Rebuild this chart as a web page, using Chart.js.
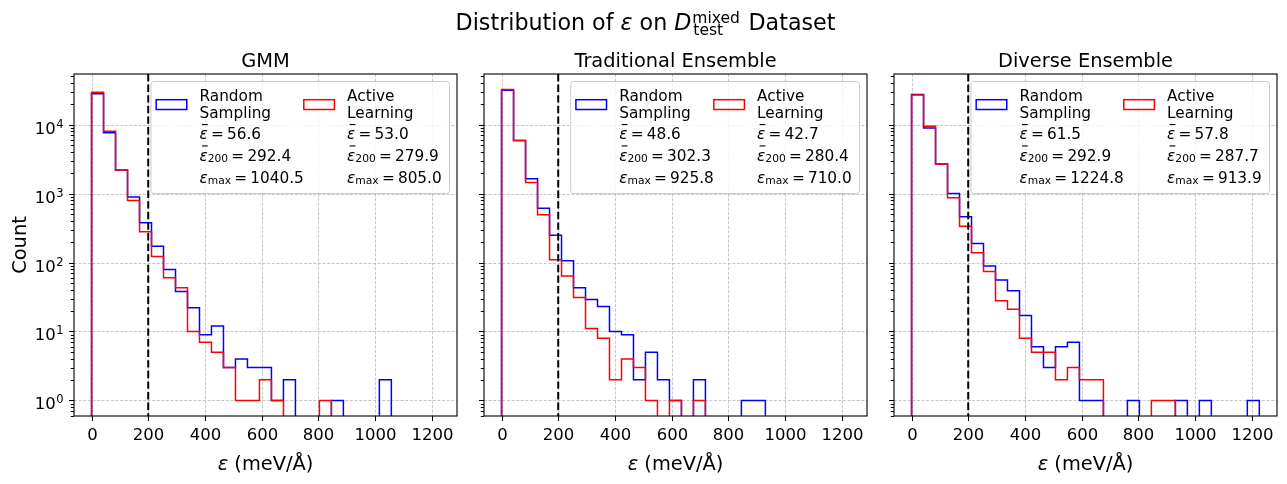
<!DOCTYPE html>
<html>
<head>
<meta charset="utf-8">
<title>Distribution of ε on D_test^mixed</title>
<script src="https://cdn.jsdelivr.net/npm/chart.js@4.4.1/dist/chart.umd.min.js"></script>
<style>
  html, body { margin: 0; padding: 0; background: #fff; }
  #fig { position: relative; width: 1287px; height: 484px; overflow: hidden; }
  #fig canvas { position: absolute; left: 0; top: 0; }
</style>
</head>
<body>
<div id="fig">
  <canvas id="panel0" width="1287" height="484"></canvas>
  <canvas id="panel1" width="1287" height="484"></canvas>
  <canvas id="panel2" width="1287" height="484"></canvas>
</div>
<script>
(function () {
  'use strict';

  // ---- data: counts per bin (bin width in meV/Å) ----
  const binWidth = 42.33;
  const gmmRandom  = [28000, 7600, 2200, 890, 378, 172, 79, 38, 22, 9, 12, 3, 4, 3, 3, 1, 2, 0, 0, 0, 1, 0, 0, 0, 2];
  const gmmActive  = [29500, 8000, 2200, 790, 280, 122, 60, 43, 10, 7, 5, 3, 1, 1, 2, 1, 0, 0, 0, 1];
  const tradRandom = [31500, 5860, 1645, 611, 248, 106, 43, 29, 23, 10, 9, 2, 5, 2, 1, 0, 2, 0, 0, 0, 1, 1];
  const tradActive = [32200, 5860, 1440, 494, 110, 64, 31, 11, 8, 2, 4, 3, 1, 0, 1, 0, 1];
  const divRandom  = [27200, 8950, 2690, 1000, 462, 188, 89, 56, 39, 17, 6, 3, 6, 7, 1, 1, 0, 0, 1, 0, 0, 0, 1, 0, 1, 0, 0, 0, 1];
  const divActive  = [26800, 9460, 2690, 870, 335, 139, 74, 28, 21, 8, 5, 5, 2, 3, 2, 2, 0, 0, 0, 0, 1, 1];

  const panelTitles = ['GMM', 'Traditional Ensemble', 'Diverse Ensemble'];
  const randomCounts = [gmmRandom, tradRandom, divRandom];
  const activeCounts = [gmmActive, tradActive, divActive];

  // legend statistics
  const randomMean    = [56.6, 48.6, 61.5];
  const activeMean    = [53.0, 42.7, 57.8];
  const randomMean200 = [292.4, 302.3, 292.9];
  const activeMean200 = [279.9, 280.4, 287.7];
  const randomMax     = [1040.5, 925.8, 1224.8];
  const activeMax     = [805.0, 710.0, 913.9];

  const threshold = 200;
  const xTicks = [0, 200, 400, 600, 800, 1000, 1200];
  const yMajor = [1, 10, 100, 1000, 10000];
  const yExp = ['0', '1', '2', '3', '4'];
  const yMinor = [0.6, 0.7, 0.8, 0.9];
  [1, 10, 100, 1000, 10000].forEach(d => [2, 3, 4, 5, 6, 7, 8, 9].forEach(m => { if (m * d < 54000) yMinor.push(m * d); }));

  // ---- layout ----
  const W = 1287, H = 484;
  const plotTop = 74, plotBottom = 416;
  const plotLeft = [74, 484, 894];
  const plotRight = [457, 867, 1277];
  const BLUE = '#0000ff', RED = '#ff0000';
  const FLOOR = 0.1; // empty bins sit below the visible log range

  const fnt = (size, italic) => (italic ? 'italic ' : '') + size + 'px "DejaVu Sans", sans-serif';

  // simple text runs (italic, sub/superscript pieces)
  function measureRuns(ctx, parts, size) {
    let cx = 0;
    const items = [];
    parts.forEach(p => {
      const s = p.small ? size * 0.7 : size;
      ctx.font = fnt(s, p.it);
      cx += p.pre || 0;
      const w = ctx.measureText(p.t).width;
      items.push({ p, s, dx: cx, w });
      cx += w + (p.post || 0);
    });
    return { items, width: cx };
  }
  function drawRuns(ctx, x, y, parts, size) {
    const m = measureRuns(ctx, parts, size);
    m.items.forEach(it => {
      ctx.font = fnt(it.s, it.p.it);
      ctx.fillText(it.p.t, x + it.dx, y + (it.p.dy || 0));
      if (it.p.bar) ctx.fillRect(x + it.dx + it.w * 0.3, y - size * 1.0, it.w * 0.7, 1.1);
    });
    return m.width;
  }

  function statLines(name, mean, m200, max) {
    const eq = { t: '=', pre: 3.2, post: 3.2 };
    return [
      [{ t: name[0] }],
      [{ t: name[1] }],
      [{ t: 'ε', it: true, bar: true }, eq, { t: mean.toFixed(1) }],
      [{ t: 'ε', it: true, bar: true }, { t: '200', small: true, dy: 1.6 }, eq, { t: m200.toFixed(1) }],
      [{ t: 'ε', it: true }, { t: 'max', small: true, dy: 1.4 }, eq, { t: max.toFixed(1) }]
    ];
  }

  function stepPoints(counts) {
    const pts = [{ x: 0, y: FLOOR }];
    counts.forEach((c, k) => pts.push({ x: k * binWidth, y: c > 0 ? c : FLOOR }));
    pts.push({ x: counts.length * binWidth, y: FLOOR });
    return pts;
  }

  function seg(ctx, x1, y1, x2, y2) {
    ctx.beginPath(); ctx.moveTo(x1, y1); ctx.lineTo(x2, y2); ctx.stroke();
  }

  const deco = {
    id: 'deco',
    beforeDatasetsDraw(chart) {
      const { ctx, chartArea: a, scales: { x, y } } = chart;
      ctx.save();
      ctx.strokeStyle = '#b8b8b8';
      ctx.lineWidth = 0.8;
      ctx.setLineDash([3, 1.6]);
      x.ticks.forEach(t => { const px = Math.round(x.getPixelForValue(t.value)) + 0.5; seg(ctx, px, a.top, px, a.bottom); });
      y.ticks.filter(t => yMajor.includes(t.value)).forEach(t => {
        const py = Math.round(y.getPixelForValue(t.value)) + 0.5; seg(ctx, a.left, py, a.right, py);
      });
      ctx.restore();
    },
    afterDatasetsDraw(chart, args, opts) {
      const i = opts.panel;
      const { ctx, chartArea: a, scales: { x, y } } = chart;
      ctx.save();
      ctx.fillStyle = '#000';
      ctx.strokeStyle = '#000';

      // threshold line
      ctx.lineWidth = 2;
      ctx.setLineDash([7.4, 3.2]);
      const tx = x.getPixelForValue(threshold);
      seg(ctx, tx, a.top, tx, a.bottom);
      ctx.setLineDash([]);

      // frame
      ctx.lineWidth = 1.1;
      ctx.strokeRect(a.left, a.top, a.right - a.left, a.bottom - a.top);

      // tick marks and labels
      ctx.lineWidth = 1;
      ctx.font = fnt(16.5);
      ctx.textAlign = 'center';
      ctx.textBaseline = 'alphabetic';
      x.ticks.forEach(t => {
        const px = Math.round(x.getPixelForValue(t.value)) + 0.5;
        seg(ctx, px, a.bottom, px, a.bottom + 5);
        ctx.fillText(String(t.value), px, a.bottom + 24);
      });
      y.ticks.forEach(t => {
        const py = Math.round(y.getPixelForValue(t.value)) + 0.5;
        const major = yMajor.includes(t.value);
        seg(ctx, a.left - (major ? 5 : 3.2), py, a.left, py);
        if (major && i === 0) {
          const e = yExp[yMajor.indexOf(t.value)];
          ctx.font = fnt(11.5);
          const we = ctx.measureText(e).width;
          ctx.textAlign = 'left';
          ctx.fillText(e, a.left - 10.5 - we, py + 2.4);
          ctx.font = fnt(16.5);
          ctx.textAlign = 'right';
          ctx.fillText('10', a.left - 10.5 - we - 0.5, py + 8);
          ctx.textAlign = 'center';
        }
      });

      // subplot title
      ctx.font = fnt(19.4);
      ctx.fillText(panelTitles[i], (a.left + a.right) / 2, a.top - 7.3);

      // x axis label
      ctx.textAlign = 'left';
      const xl = [{ t: 'ε', it: true }, { t: ' (meV/Å)' }];
      const xlw = measureRuns(ctx, xl, 19.4).width;
      drawRuns(ctx, (a.left + a.right) / 2 - xlw / 2, 469.5, xl, 19.4);

      if (i === 0) {
        // y axis label
        ctx.save();
        ctx.translate(26, (a.top + a.bottom) / 2);
        ctx.rotate(-Math.PI / 2);
        ctx.textAlign = 'center';
        ctx.font = fnt(19.4);
        ctx.fillText('Count', 0, 0);
        ctx.restore();

        // figure title
        const size = 22.2;
        const head = [{ t: 'Distribution of ' }, { t: 'ε', it: true }, { t: ' on ' }, { t: 'D', it: true }];
        const tail = [{ t: ' Dataset' }];
        ctx.font = fnt(size * 0.7);
        const wSup = ctx.measureText('mixed').width;
        const wSub = ctx.measureText('test').width;
        const wStack = Math.max(wSup, wSub) + 1.5;
        const wHead = measureRuns(ctx, head, size).width;
        const wTail = measureRuns(ctx, tail, size).width;
        let sx = 645 - (wHead + wStack + wTail) / 2;
        const base = 30;
        drawRuns(ctx, sx, base, head, size);
        sx += wHead + 1;
        ctx.font = fnt(size * 0.7);
        ctx.fillText('mixed', sx, base - 7);
        ctx.fillText('test', sx + 1, base + 5);
        drawRuns(ctx, sx + wStack, base, tail, size);
      }

      // legend
      const LS = 15.3;
      const blueLines = statLines(['Random', 'Sampling'], randomMean[i], randomMean200[i], randomMax[i]);
      const redLines = statLines(['Active', 'Learning'], activeMean[i], activeMean200[i], activeMax[i]);
      const w1 = Math.max(...blueLines.map(l => measureRuns(ctx, l, LS).width));
      const w2 = Math.max(...redLines.map(l => measureRuns(ctx, l, LS).width));
      const patchW = 30.6, patchH = 9.8, patchGap = 12.7;
      const boxRight = a.right - 8, boxTop = a.top + 7, boxH = 112;
      const t2x = boxRight - 7.3 - w2;
      const p2x = t2x - patchGap - patchW;
      const t1x = p2x - w1;
      const p1x = t1x - patchGap - patchW;
      const boxLeft = p1x - 5.7;
      ctx.beginPath();
      ctx.roundRect(boxLeft + 0.5, boxTop + 0.5, boxRight - boxLeft, boxH, 3);
      ctx.fillStyle = 'rgba(255,255,255,0.8)';
      ctx.fill();
      ctx.strokeStyle = '#cccccc';
      ctx.lineWidth = 1;
      ctx.stroke();

      ctx.lineWidth = 1.5;
      ctx.strokeStyle = BLUE;
      ctx.strokeRect(p1x, boxTop + 18.7, patchW, patchH);
      ctx.strokeStyle = RED;
      ctx.strokeRect(p2x, boxTop + 18.7, patchW, patchH);

      ctx.fillStyle = '#000';
      ctx.textAlign = 'left';
      const baselines = [20, 37.3, 58.3, 79.7, 101.5];
      baselines.forEach((b, k) => {
        drawRuns(ctx, t1x, boxTop + b, blueLines[k], LS);
        drawRuns(ctx, t2x, boxTop + b, redLines[k], LS);
      });
      ctx.restore();
    }
  };

  const hiddenAxis = {
    grid: { display: false, drawTicks: false }, border: { display: false }, ticks: { display: false }
  };

  function makeChart(i) {
    return new Chart(document.getElementById('panel' + i), {
      type: 'line',
      data: {
        datasets: [
          { label: 'Active Learning', data: stepPoints(activeCounts[i]), borderColor: RED, order: 0 },
          { label: 'Random Sampling', data: stepPoints(randomCounts[i]), borderColor: BLUE, order: 1 }
        ]
      },
      options: {
        responsive: false,
        animation: false,
        events: [],
        layout: { padding: { left: plotLeft[i], right: W - plotRight[i], top: plotTop, bottom: H - plotBottom } },
        datasets: { line: { stepped: 'before', borderWidth: 1.5, pointRadius: 0, fill: false, tension: 0 } },
        plugins: { legend: { display: false }, tooltip: { enabled: false }, deco: { panel: i } },
        scales: {
          x: Object.assign({
            type: 'linear', min: -62, max: 1290,
            afterBuildTicks: s => { s.ticks = xTicks.map(v => ({ value: v })); },
            afterFit: s => { s.height = 0; }
          }, hiddenAxis),
          y: Object.assign({
            type: 'logarithmic', min: 0.595, max: 54100,
            afterBuildTicks: s => { s.ticks = yMinor.concat(yMajor).sort((p, q) => p - q).map(v => ({ value: v })); },
            afterFit: s => { s.width = 0; }
          }, hiddenAxis)
        }
      },
      plugins: [deco]
    });
  }

  [0, 1, 2].forEach(makeChart);
})();
</script>
</body>
</html>
